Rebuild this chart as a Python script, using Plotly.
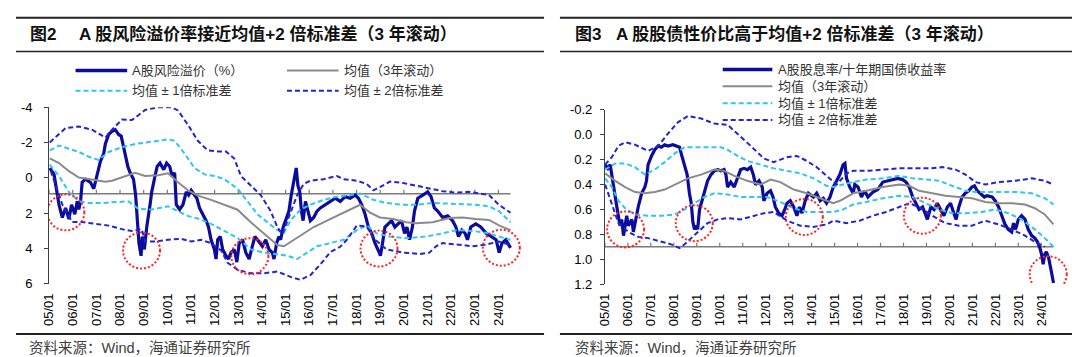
import plotly.graph_objects as go

W, H = 1080, 357

# ---------------- shared tick labels ----------------
tick_years = [2005, 2006, 2007, 2008, 2009, 2010, 2011, 2012, 2013, 2014,
              2015, 2016, 2017, 2018, 2019, 2020, 2021, 2022, 2023, 2024]
tick_labels = ["05/01", "06/01", "07/01", "08/01", "09/01", "10/01", "11/01",
               "12/01", "13/01", "14/01", "15/01", "16/01", "17/01", "18/01",
               "19/01", "20/01", "21/01", "22/01", "23/01", "24/01"]
L_yticks = [-4, -2, 0, 2, 4, 6]
L_ytick_labels = ["-4", "-2", "0", "2", "4", "6"]
R_yticks = [-0.2, 0.0, 0.2, 0.4, 0.6, 0.8, 1.0, 1.2]
R_ytick_labels = ["-0.2", "0.0", "0.2", "0.4", "0.6", "0.8", "1.0", "1.2"]

# ---------------- left chart: A股风险溢价 (%) ----------------
L_main_t = [2005.03, 2005.21, 2005.42, 2005.56, 2005.70, 2005.84, 2005.95, 2006.09, 2006.19, 2006.26,
            2006.33, 2006.40, 2006.54, 2006.75, 2006.89, 2006.96, 2007.07, 2007.17, 2007.31, 2007.38,
            2007.52, 2007.66, 2007.80, 2007.94, 2008.05, 2008.15, 2008.22, 2008.33, 2008.43, 2008.57,
            2008.66, 2008.75, 2008.80, 2008.89, 2008.94, 2009.03, 2009.13, 2009.27, 2009.34, 2009.48,
            2009.57, 2009.69, 2009.78, 2009.85, 2009.97, 2010.10, 2010.20, 2010.31, 2010.38, 2010.52,
            2010.66, 2010.80, 2010.90, 2011.01, 2011.15, 2011.25, 2011.36, 2011.50, 2011.64, 2011.74,
            2011.85, 2011.99, 2012.06, 2012.13, 2012.24, 2012.34, 2012.48, 2012.59, 2012.69, 2012.83,
            2012.94, 2013.04, 2013.18, 2013.32, 2013.46, 2013.56, 2013.70, 2013.81, 2014.02, 2014.16,
            2014.30, 2014.44, 2014.51, 2014.62, 2014.72, 2014.79, 2014.90, 2015.00, 2015.14, 2015.24,
            2015.35, 2015.45, 2015.52, 2015.60, 2015.67, 2015.74, 2015.84, 2015.95, 2016.05, 2016.19,
            2016.33, 2016.47, 2016.68, 2016.89, 2017.10, 2017.31, 2017.52, 2017.73, 2017.94, 2018.08,
            2018.22, 2018.36, 2018.50, 2018.64, 2018.78, 2018.96, 2019.01, 2019.10, 2019.20, 2019.34,
            2019.48, 2019.62, 2019.76, 2019.90, 2020.03, 2020.13, 2020.24, 2020.36, 2020.45, 2020.59,
            2020.80, 2021.01, 2021.15, 2021.29, 2021.43, 2021.64, 2021.85, 2022.06, 2022.20, 2022.31,
            2022.45, 2022.59, 2022.69, 2022.83, 2023.04, 2023.25, 2023.48, 2023.67, 2023.90, 2024.03,
            2024.15, 2024.31, 2024.45, 2024.51]
L_main_v = [-0.56, -0.20, 1.52, 2.24, 1.70, 2.33, 1.52, 2.06, 1.33, 1.79,
            1.33, 0.25, 0.07, 0.25, 0.61, 0.25, -0.47, -0.93, -1.38, -1.92,
            -2.46, -2.64, -2.73, -2.46, -2.37, -1.74, -1.38, -0.65, -0.29, 0.07,
            0.97, 2.42, 3.69, 4.41, 3.32, 4.05, 2.78, 1.52, 0.79, -0.11,
            -0.65, -0.84, -0.65, -0.47, -0.84, -0.65, -0.11, -0.29, 1.52, 1.79,
            1.52, 0.79, 0.97, 0.70, 0.97, 1.15, 1.70, 2.06, 2.42, 2.78,
            3.50, 4.05, 4.59, 3.50, 3.32, 4.05, 4.41, 4.59, 4.23, 4.05,
            4.77, 3.69, 3.50, 4.23, 4.59, 4.05, 3.32, 3.50, 3.87, 3.50,
            4.05, 4.23, 4.59, 3.69, 3.32, 3.50, 2.78, 2.42, 1.88, 0.97,
            0.25, -0.56, 0.43, 0.79, 1.88, 2.42, 1.33, 1.88, 2.42, 2.24,
            1.88, 1.70, 1.52, 1.33, 1.15, 1.33, 1.06, 1.15, 0.97, 1.15,
            1.52, 2.06, 2.78, 3.14, 3.69, 4.23, 4.41, 3.69, 2.78, 2.60,
            2.42, 2.78, 2.60, 2.42, 3.14, 2.78, 3.50, 2.78, 1.88, 1.15,
            0.97, 0.79, 1.06, 1.70, 1.88, 2.24, 2.15, 2.42, 2.78, 3.32,
            2.96, 3.14, 3.50, 2.78, 2.60, 2.78, 3.14, 3.32, 3.50, 4.23,
            3.69, 3.50, 3.87, 3.96]

L_mean_t = [2005.03, 2005.42, 2005.84, 2006.26, 2006.54, 2006.96, 2007.38, 2007.66, 2008.08, 2008.64,
            2009.06, 2009.62, 2010.03, 2010.45, 2010.87, 2011.29, 2011.85, 2012.41, 2012.97, 2013.53,
            2014.09, 2014.65, 2014.93, 2015.35, 2015.77, 2016.19, 2016.75, 2017.31, 2017.87, 2018.15,
            2018.57, 2018.99, 2019.55, 2020.10, 2020.52, 2021.22, 2021.92, 2022.48, 2023.04, 2023.60,
            2024.02, 2024.51]
L_mean_v = [-1.11, -0.84, -0.38, -0.02, 0.03, 0.10, 0.21, 0.16, -0.02, -0.29,
            -0.11, -0.15, -0.26, 0.25, 0.70, 1.00, 1.24, 1.52, 1.80, 2.51,
            3.14, 3.80, 3.87, 3.50, 3.14, 2.78, 2.42, 2.06, 1.70, 1.52,
            1.97, 2.24, 2.33, 2.51, 2.56, 2.51, 2.27, 2.24, 2.33, 2.38,
            2.69, 2.96]

L_sd1_hi_t = [2005.03, 2005.42, 2005.84, 2006.26, 2006.68, 2007.10, 2007.52, 2008.08, 2008.64, 2009.20,
              2009.62, 2010.03, 2010.31, 2010.73, 2011.15, 2011.57, 2011.99, 2012.41, 2012.97, 2013.39,
              2013.81, 2014.23, 2014.65, 2014.93, 2015.21, 2015.63, 2016.05, 2016.61, 2017.17, 2017.73,
              2018.15, 2018.71, 2019.27, 2019.97, 2020.52, 2021.22, 2021.92, 2022.48, 2023.04, 2023.60,
              2024.02, 2024.51]
L_sd1_hi_v = [-1.56, -1.83, -1.65, -1.47, -1.20, -1.02, -1.47, -1.74, -1.92, -2.01,
              -2.10, -2.19, -2.10, -1.38, -0.56, -0.20, -0.11, 0.07, 0.61, 1.33,
              2.06, 2.51, 2.95, 3.10, 2.40, 1.79, 1.52, 1.24, 1.06, 0.97,
              0.88, 1.24, 1.42, 1.52, 1.52, 1.42, 1.47, 1.52, 1.52, 1.61,
              1.88, 2.51]

L_sd1_lo_t = [2005.03, 2005.42, 2005.84, 2006.26, 2006.68, 2007.24, 2007.80, 2008.36, 2008.78, 2009.34,
              2010.03, 2010.45, 2010.87, 2011.29, 2011.85, 2012.41, 2012.97, 2013.53, 2014.09, 2014.65,
              2015.07, 2015.49, 2015.91, 2016.33, 2016.89, 2017.45, 2018.01, 2018.43, 2018.85, 2019.41,
              2020.10, 2020.94, 2021.64, 2022.20, 2022.90, 2023.60, 2024.02, 2024.51]
L_sd1_lo_v = [-0.75, -0.11, 0.79, 1.33, 1.42, 1.42, 1.37, 1.33, 1.75, 1.79,
              1.61, 1.90, 2.15, 2.30, 2.60, 3.00, 3.40, 4.05, 4.23, 4.32,
              4.41, 4.59, 4.23, 3.87, 3.69, 3.50, 2.96, 2.69, 3.14, 3.32,
              3.41, 3.32, 3.14, 2.96, 3.00, 3.14, 3.32, 3.50]

L_sd2_hi_t = [2005.03, 2005.42, 2005.70, 2006.26, 2006.82, 2007.38, 2007.66, 2008.08, 2008.50, 2008.78,
              2009.06, 2009.62, 2010.17, 2010.45, 2010.87, 2011.29, 2011.71, 2012.13, 2012.48, 2012.83,
              2013.11, 2013.53, 2013.95, 2014.37, 2014.65, 2014.86, 2015.07, 2015.49, 2015.77, 2016.05,
              2016.61, 2017.17, 2017.45, 2018.01, 2018.43, 2018.71, 2018.99, 2019.41, 2019.97, 2020.52,
              2021.08, 2021.64, 2022.20, 2022.76, 2023.18, 2023.60, 2024.02, 2024.51]
L_sd2_hi_v = [-2.01, -2.46, -2.82, -2.91, -2.73, -2.28, -2.73, -3.30, -3.28, -3.55,
              -3.85, -4.00, -4.00, -3.82, -3.01, -2.10, -1.56, -1.50, -1.50, -1.10,
              -0.11, 0.43, 0.97, 1.88, 2.78, 3.20, 2.42, 0.97, 0.34, 0.16,
              0.07, -0.11, 0.07, 0.16, 0.34, 0.70, 0.52, 0.21, 0.29, 0.43,
              0.61, 0.75, 0.83, 0.79, 0.88, 0.97, 1.52, 1.97]

L_sd2_lo_t = [2005.07, 2005.56, 2005.98, 2006.40, 2006.96, 2007.52, 2008.08, 2008.50, 2008.92, 2009.06,
              2009.48, 2010.03, 2010.59, 2011.01, 2011.43, 2011.85, 2012.27, 2012.55, 2012.97, 2013.53,
              2014.09, 2014.65, 2015.21, 2015.63, 2016.05, 2016.47, 2016.89, 2017.31, 2017.59, 2018.01,
              2018.43, 2018.71, 2019.27, 2019.97, 2020.69, 2021.08, 2021.36, 2021.64, 2022.34, 2022.90,
              2023.46, 2024.02, 2024.51]
L_sd2_lo_v = [-0.40, 1.50, 2.50, 2.50, 2.60, 2.70, 2.90, 3.00, 2.90, 3.60,
              3.60, 3.50, 3.45, 3.60, 3.50, 3.70, 4.10, 4.80, 5.20, 5.40,
              5.40, 5.30, 5.60, 5.77, 5.50, 4.90, 4.20, 3.90, 3.50, 2.70,
              2.75, 3.40, 4.05, 4.23, 4.30, 4.23, 3.87, 3.69, 3.78, 3.87,
              3.78, 3.60, 3.80]

L_circle_t = [2005.71, 2008.91, 2013.49, 2018.95, 2024.12]
L_circle_v = [1.95, 4.11, 4.43, 4.00, 3.95]

# ---------------- right chart: A股股息率/十年期国债收益率 ----------------
R_main_t = [2005.01, 2005.13, 2005.23, 2005.37, 2005.52, 2005.66, 2005.73, 2005.81, 2005.95, 2006.02,
            2006.17, 2006.24, 2006.31, 2006.45, 2006.60, 2006.74, 2006.81, 2006.88, 2007.03, 2007.17,
            2007.32, 2007.46, 2007.60, 2007.75, 2007.96, 2008.11, 2008.25, 2008.35, 2008.47, 2008.58,
            2008.68, 2008.76, 2008.83, 2008.90, 2008.97, 2009.04, 2009.12, 2009.19, 2009.33, 2009.47,
            2009.62, 2009.76, 2009.91, 2010.05, 2010.19, 2010.27, 2010.34, 2010.48, 2010.63, 2010.77,
            2010.91, 2011.06, 2011.20, 2011.35, 2011.46, 2011.56, 2011.71, 2011.85, 2011.92, 2012.06,
            2012.21, 2012.32, 2012.42, 2012.57, 2012.71, 2012.81, 2012.93, 2013.07, 2013.22, 2013.36,
            2013.47, 2013.58, 2013.72, 2013.86, 2014.08, 2014.22, 2014.37, 2014.51, 2014.65, 2014.80,
            2014.94, 2015.09, 2015.23, 2015.37, 2015.45, 2015.52, 2015.66, 2015.81, 2015.88, 2016.02,
            2016.17, 2016.31, 2016.45, 2016.67, 2016.88, 2017.10, 2017.32, 2017.53, 2017.75, 2017.96,
            2018.11, 2018.25, 2018.40, 2018.54, 2018.68, 2018.83, 2018.97, 2019.04, 2019.19, 2019.33,
            2019.47, 2019.62, 2019.76, 2019.91, 2020.05, 2020.19, 2020.29, 2020.41, 2020.55, 2020.69,
            2020.84, 2020.98, 2021.09, 2021.21, 2021.35, 2021.52, 2021.63, 2021.86, 2021.99, 2022.14,
            2022.28, 2022.42, 2022.56, 2022.71, 2022.79, 2022.88, 2023.00, 2023.14, 2023.29, 2023.43,
            2023.58, 2023.72, 2023.83, 2023.94, 2024.01, 2024.08, 2024.15, 2024.22, 2024.32, 2024.41,
            2024.47, 2024.53]
R_main_v = [0.24, 0.27, 0.24, 0.42, 0.58, 0.73, 0.68, 0.81, 0.65, 0.73,
            0.68, 0.78, 0.71, 0.58, 0.47, 0.42, 0.37, 0.24, 0.17, 0.12,
            0.09, 0.10, 0.08, 0.09, 0.08, 0.09, 0.10, 0.17, 0.24, 0.32,
            0.47, 0.55, 0.70, 0.76, 0.73, 0.76, 0.60, 0.55, 0.45, 0.37,
            0.32, 0.29, 0.28, 0.29, 0.28, 0.32, 0.42, 0.38, 0.42, 0.35,
            0.28, 0.27, 0.28, 0.26, 0.32, 0.40, 0.37, 0.42, 0.53, 0.47,
            0.45, 0.50, 0.58, 0.63, 0.65, 0.61, 0.55, 0.53, 0.58, 0.65,
            0.58, 0.63, 0.53, 0.47, 0.50, 0.47, 0.53, 0.51, 0.55, 0.50,
            0.42, 0.37, 0.32, 0.24, 0.23, 0.35, 0.42, 0.47, 0.40, 0.42,
            0.50, 0.45, 0.50, 0.46, 0.44, 0.38, 0.37, 0.36, 0.35, 0.36,
            0.38, 0.42, 0.50, 0.55, 0.60, 0.58, 0.65, 0.68, 0.58, 0.60,
            0.55, 0.60, 0.65, 0.58, 0.55, 0.63, 0.68, 0.58, 0.50, 0.47,
            0.45, 0.42, 0.41, 0.45, 0.47, 0.50, 0.49, 0.50, 0.53, 0.58,
            0.65, 0.72, 0.76, 0.78, 0.71, 0.76, 0.68, 0.65, 0.68, 0.76,
            0.81, 0.83, 0.86, 0.91, 0.96, 1.04, 0.96, 0.94, 0.99, 1.06,
            1.13, 1.19]

R_mean_t = [2005.01, 2005.45, 2005.88, 2006.31, 2006.74, 2007.17, 2007.60, 2008.04, 2008.61, 2009.19,
            2009.76, 2010.19, 2010.63, 2011.20, 2011.78, 2012.21, 2012.64, 2013.22, 2013.79, 2014.37,
            2014.94, 2015.23, 2015.81, 2016.38, 2017.10, 2017.82, 2018.25, 2018.68, 2019.26, 2019.83,
            2020.41, 2020.98, 2021.56, 2022.14, 2022.71, 2023.29, 2023.72, 2024.15, 2024.53]
R_mean_v = [0.31, 0.37, 0.42, 0.46, 0.47, 0.46, 0.44, 0.40, 0.35, 0.32,
            0.28, 0.29, 0.33, 0.37, 0.40, 0.36, 0.38, 0.44, 0.47, 0.51,
            0.55, 0.53, 0.47, 0.45, 0.42, 0.40, 0.41, 0.45, 0.47, 0.49,
            0.50, 0.51, 0.54, 0.55, 0.55, 0.56, 0.59, 0.64, 0.72]

R_sd1_hi_t = [2005.01, 2005.45, 2005.88, 2006.31, 2006.74, 2007.17, 2007.60, 2008.04, 2008.47, 2008.90,
              2009.47, 2010.05, 2010.34, 2010.77, 2011.20, 2011.78, 2012.35, 2012.93, 2013.50, 2014.08,
              2014.65, 2014.94, 2015.37, 2015.81, 2016.38, 2017.10, 2017.82, 2018.40, 2018.97, 2019.55,
              2020.12, 2020.70, 2021.13, 2021.71, 2022.28, 2023.00, 2023.58, 2024.15, 2024.53]
R_sd1_hi_v = [0.28, 0.23, 0.23, 0.26, 0.32, 0.28, 0.22, 0.15, 0.10, 0.10,
              0.10, 0.10, 0.12, 0.17, 0.21, 0.24, 0.27, 0.29, 0.31, 0.35,
              0.41, 0.42, 0.40, 0.38, 0.36, 0.35, 0.33, 0.35, 0.36, 0.37,
              0.41, 0.45, 0.46, 0.46, 0.46, 0.46, 0.47, 0.51, 0.56]

R_sd1_lo_t = [2005.01, 2005.30, 2005.59, 2005.88, 2006.31, 2006.88, 2007.46, 2008.04, 2008.47, 2008.90,
              2009.33, 2009.76, 2010.34, 2010.91, 2011.49, 2012.06, 2012.64, 2013.22, 2013.79, 2014.37,
              2014.94, 2015.37, 2015.81, 2016.38, 2017.10, 2017.82, 2018.40, 2018.97, 2019.55, 2020.12,
              2020.70, 2021.42, 2021.99, 2022.56, 2023.14, 2023.72, 2024.15, 2024.53]
R_sd1_lo_v = [0.35, 0.42, 0.53, 0.59, 0.64, 0.65, 0.65, 0.64, 0.60, 0.55,
              0.50, 0.47, 0.48, 0.50, 0.50, 0.50, 0.54, 0.59, 0.62, 0.62,
              0.62, 0.60, 0.56, 0.54, 0.51, 0.49, 0.50, 0.55, 0.60, 0.63,
              0.63, 0.62, 0.60, 0.63, 0.68, 0.76, 0.83, 0.90]

R_sd2_hi_t = [2005.01, 2005.30, 2005.59, 2005.88, 2006.31, 2006.88, 2007.32, 2007.75, 2008.18, 2008.61,
              2009.19, 2009.76, 2010.34, 2010.77, 2011.35, 2011.92, 2012.35, 2012.93, 2013.36, 2013.79,
              2014.22, 2014.65, 2015.09, 2015.52, 2015.81, 2016.38, 2017.10, 2017.82, 2018.40, 2019.12,
              2019.69, 2020.27, 2020.70, 2021.13, 2021.56, 2022.14, 2022.85, 2023.58, 2024.15, 2024.53]
R_sd2_hi_v = [0.24, 0.18, 0.09, 0.06, 0.08, 0.13, 0.09, -0.01, -0.10, -0.15,
              -0.13, -0.09, -0.08, -0.01, 0.09, 0.19, 0.22, 0.18, 0.17, 0.21,
              0.26, 0.33, 0.40, 0.31, 0.29, 0.29, 0.28, 0.27, 0.27, 0.27,
              0.26, 0.28, 0.32, 0.38, 0.40, 0.38, 0.37, 0.35, 0.37, 0.40]

R_sd2_lo_t = [2005.01, 2005.30, 2005.59, 2006.02, 2006.45, 2006.88, 2007.46, 2007.89, 2008.25, 2008.47,
              2008.76, 2009.19, 2009.47, 2009.91, 2010.34, 2010.91, 2011.49, 2011.92, 2012.35, 2012.93,
              2013.50, 2014.08, 2014.65, 2014.94, 2015.52, 2016.09, 2016.67, 2017.24, 2017.82, 2018.25,
              2018.68, 2019.26, 2019.83, 2020.41, 2020.98, 2021.56, 2022.14, 2022.71, 2023.29, 2023.72,
              2024.15]
R_sd2_lo_v = [0.40, 0.55, 0.71, 0.78, 0.82, 0.83, 0.86, 0.88, 0.91, 0.88,
              0.83, 0.76, 0.71, 0.68, 0.67, 0.68, 0.65, 0.63, 0.62, 0.69,
              0.73, 0.74, 0.72, 0.69, 0.71, 0.69, 0.65, 0.62, 0.58, 0.55,
              0.58, 0.65, 0.71, 0.73, 0.73, 0.69, 0.72, 0.76, 0.81, 0.86,
              0.90]

R_circle_t = [2005.90, 2008.89, 2013.68, 2018.82, 2024.30]
R_circle_v = [0.76, 0.71, 0.66, 0.65, 1.12]

# ---------------- text ----------------
L_fig_no = "图2"
L_title = "A 股风险溢价率接近均值+2 倍标准差（3 年滚动）"
R_fig_no = "图3"
R_title = "A 股股债性价比高于均值+2 倍标准差（3 年滚动）"
source_text = "资料来源：Wind，海通证券研究所"
L_names = ["A股风险溢价（%）", "均值（3年滚动）", "均值 ± 1倍标准差", "均值 ± 2倍标准差"]
R_names = ["A股股息率/十年期国债收益率", "均值（3年滚动）", "均值 ± 1倍标准差", "均值 ± 2倍标准差"]

# ---------------- style ----------------
NAVY = "#0B0B9C"
GRAY = "#8A8A8A"
CYAN = "#2EC6F2"
BLUE = "#2323D2"
RED = "#FF2222"
AXIS = "#404040"
LATIN_CJK = "Liberation Sans, Arial, Noto Sans CJK SC"
DASH = "5px,3px"

def px(p):
    return p / W

def py(p):
    return 1 - p / H

fig = go.Figure()

panels = [
    dict(x="x", y="y", data=[(L_main_t, L_main_v), (L_mean_t, L_mean_v),
                             (L_sd1_hi_t, L_sd1_hi_v), (L_sd1_lo_t, L_sd1_lo_v),
                             (L_sd2_hi_t, L_sd2_hi_v), (L_sd2_lo_t, L_sd2_lo_v)],
         circles=(L_circle_t, L_circle_v), cross=0.9, names=L_names),
    dict(x="x2", y="y2", data=[(R_main_t, R_main_v), (R_mean_t, R_mean_v),
                               (R_sd1_hi_t, R_sd1_hi_v), (R_sd1_lo_t, R_sd1_lo_v),
                               (R_sd2_hi_t, R_sd2_hi_v), (R_sd2_lo_t, R_sd2_lo_v)],
         circles=(R_circle_t, R_circle_v), cross=0.9, names=R_names),
]

styles = [dict(color=NAVY, width=3.2),
          dict(color=GRAY, width=2),
          dict(color=CYAN, width=2, dash=DASH),
          dict(color=CYAN, width=2, dash=DASH),
          dict(color=BLUE, width=2, dash=DASH),
          dict(color=BLUE, width=2, dash=DASH)]
name_idx = [0, 1, 2, 2, 3, 3]

shapes = []
annotations = []

for p in panels:
    for (t, v), st, ni in zip(p["data"], styles, name_idx):
        assert len(t) == len(v)
        fig.add_trace(go.Scatter(x=t, y=v, mode="lines", line=st, name=p["names"][ni],
                                 xaxis=p["x"], yaxis=p["y"], showlegend=False,
                                 hoverinfo="skip"))
    xr, yr = p["x"], p["y"]
    t_end = p["data"][0][0][-1]
    # horizontal axis line where the category axis crosses
    shapes.append(dict(type="line", xref=xr, yref=yr, x0=tick_years[0], x1=t_end,
                       y0=p["cross"], y1=p["cross"], layer="below",
                       line=dict(color="#7A7A7A", width=1.5)))
    for yv in tick_years:
        shapes.append(dict(type="line", xref=xr, yref=yr, ysizemode="pixel",
                           yanchor=p["cross"], x0=yv, x1=yv, y0=0, y1=4,
                           layer="below", line=dict(color="#7A7A7A", width=1.2)))
    ct, cv = p["circles"]
    for a, b in zip(ct, cv):
        shapes.append(dict(type="circle", xref=xr, yref=yr, xsizemode="pixel",
                           ysizemode="pixel", xanchor=a, yanchor=b,
                           x0=-18.5, x1=18.5, y0=-18, y1=18,
                           line=dict(color=RED, width=2, dash="2px,2px")))

# ---------------- frame: title bars and source rules ----------------
for x0, x1 in [(0, 532), (548, 1080)]:
    shapes.append(dict(type="line", xref="paper", yref="paper", x0=px(x0), x1=px(x1),
                       y0=py(3), y1=py(3), line=dict(color="#222222", width=2)))
    shapes.append(dict(type="line", xref="paper", yref="paper", x0=px(x0), x1=px(x1),
                       y0=py(38), y1=py(38), line=dict(color="#222222", width=1.5)))
    shapes.append(dict(type="line", xref="paper", yref="paper", x0=px(x0), x1=px(x1),
                       y0=py(333), y1=py(333), line=dict(color="#222222", width=2)))

def text(x, y, s, size, color="#111111", bold=False):
    annotations.append(dict(xref="paper", yref="paper", x=px(x), y=py(y),
                            xanchor="left", yanchor="middle", showarrow=False,
                            text=f"<b>{s}</b>" if bold else s,
                            font=dict(family=LATIN_CJK, size=size, color=color)))

text(12, 20, L_fig_no, 17, bold=True)
text(61, 20, L_title, 17, bold=True)
text(561, 20, R_fig_no, 17, bold=True)
text(602, 20, R_title, 17, bold=True)
text(11, 348, source_text, 14.5, color="#404040")
text(561, 348, source_text, 14.5, color="#404040")

# ---------------- legends (drawn as keys + labels) ----------------
key_styles = [dict(color=NAVY, width=3.5), dict(color=GRAY, width=2),
              dict(color=CYAN, width=2, dash=DASH), dict(color=BLUE, width=2, dash=DASH)]
L_key_pos = [(60, 58), (273, 58), (60, 79), (273, 79)]
for (kx, ky), st, nm in zip(L_key_pos, key_styles, L_names):
    shapes.append(dict(type="line", xref="paper", yref="paper", x0=px(kx), x1=px(kx + 52),
                       y0=py(ky), y1=py(ky), line=st))
    text(kx + 55, ky, nm, 13, color="#333333")
R_key_pos = [(712, 57), (712, 74.5), (712, 92), (712, 109.5)]
for (kx, ky), st, nm in zip(R_key_pos, key_styles, R_names):
    shapes.append(dict(type="line", xref="paper", yref="paper", x0=px(kx), x1=px(kx + 50),
                       y0=py(ky), y1=py(ky), line=st))
    text(kx + 54, ky, nm, 13, color="#333333")

# ---------------- axes ----------------
tickfont = dict(family="Liberation Sans, Arial", size=13, color="#000000")
L_x0, L_x1, L_ppy = 33.3, 510.0, 23.83
R_x0, R_x1, R_ppy = 593.3, 1060.0, 23.14

xcommon = dict(showgrid=False, zeroline=False, showline=False, ticks="",
               tickmode="array", tickvals=tick_years, ticktext=tick_labels,
               tickangle=-90, tickfont=tickfont, ticklabelstandoff=6)
ycommon = dict(showgrid=False, zeroline=False, showline=True, linecolor=AXIS, linewidth=1,
               ticks="outside", ticklen=4, tickcolor=AXIS, tickwidth=1, tickfont=tickfont,
               tickmode="array")

fig.update_layout(
    width=W, height=H, margin=dict(l=0, r=0, t=0, b=0),
    paper_bgcolor="white", plot_bgcolor="white", showlegend=False,
    xaxis=dict(domain=[px(L_x0), px(L_x1)], anchor="y",
               range=[2005, 2005 + (L_x1 - L_x0) / L_ppy], **xcommon),
    yaxis=dict(domain=[py(280.7), py(96.3)], anchor="x", range=[6, -4],
               tickvals=L_yticks, ticktext=L_ytick_labels, ticklabelstandoff=9,
               **ycommon),
    xaxis2=dict(domain=[px(R_x0), px(R_x1)], anchor="y2",
                range=[2005, 2005 + (R_x1 - R_x0) / R_ppy], **xcommon),
    yaxis2=dict(domain=[py(281), py(99)], anchor="x2", range=[1.2, -0.2],
                tickvals=R_yticks, ticktext=R_ytick_labels, ticklabelstandoff=5,
                **ycommon),
    shapes=shapes, annotations=annotations,
)

fig.write_html("out.html")
